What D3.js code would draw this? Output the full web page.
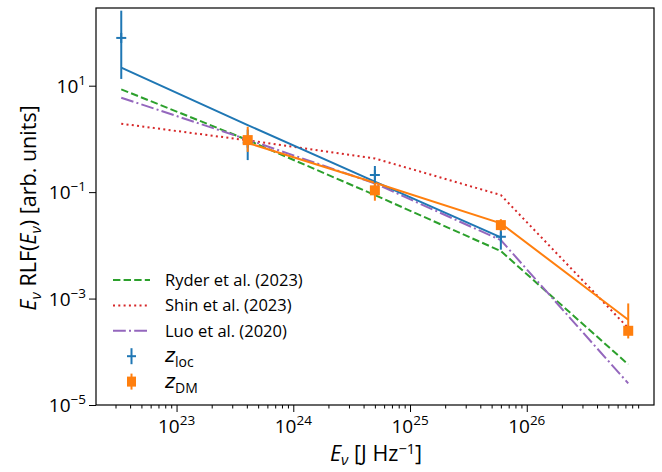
<!DOCTYPE html>
<html>
<head>
<meta charset="utf-8">
<script src="https://cdn.jsdelivr.net/npm/d3@7"></script>
<style>
  html, body { margin: 0; padding: 0; background: #fff; }
  svg { display: block; font-family: "Open Sans", "Noto Sans", sans-serif; }
</style>
</head>
<body>
<svg id="chart" width="662" height="472"></svg>
<script>
// Energy bin centres [J Hz^-1]
const energies = [3.36e22, 4.07e23, 5.0e24, 6.0e25, 7.4e26];

// Literature luminosity functions, E * RLF(E)
const ryder = [8.55, 0.95, 0.088, 0.0078, 5.8e-5];
const shin  = [1.93, 0.94, 0.43, 0.088, 0.00028];
const luo   = [5.95, 0.97, 0.146, 0.0125, 2.55e-5];

// Fitted power laws for the two redshift estimates
const locFitE = energies.slice(0, 4);
const locFit  = [21.8, 1.82, 0.157, 0.0141];
const dmFitE  = energies.slice(1);
const dmFit   = [0.84, 0.150, 0.0259, 0.00040];

// Binned measurements with error bars
const zLocE  = energies.slice(0, 4);
const zLoc   = [79, 0.85, 0.21, 0.0145];
const zLocLo = [13.4, 0.40, 0.13, 0.0083];
const zLocHi = [257, 1.5, 0.31, 0.020];

const zDmE  = energies.slice(1);
const zDm   = [0.95, 0.108, 0.024, 0.000248];
const zDmLo = [0.57, 0.069, 0.019, 0.000178];
const zDmHi = [1.69, 0.15, 0.031, 0.00081];

// Axis ticks
const xTicks = [1e23, 1e24, 1e25, 1e26];
const xTickExp = ["23", "24", "25", "26"];
const yTicks = [1e1, 1e-1, 1e-3, 1e-5];
const yTickExp = ["1", "\u22121", "\u22123", "\u22125"];

const C = { blue: "#1f77b4", orange: "#ff7f0e", green: "#2ca02c", red: "#d62728", purple: "#9467bd" };

const pL = 96, pR = 654, pT = 8, pB = 405;
const svg = d3.select("#chart");

const x = d3.scaleLog().domain([Math.pow(10, 22.31), Math.pow(10, 27.09)]).range([pL, pR]);
const y = d3.scaleLog().domain([1e-5, Math.pow(10, 2.46)]).range([pB, pT]);

const tickFont = 19, expFont = 13.5;

// x axis: major ticks with labels, minor ticks without
const xMinor = [];
for (let e = 22; e <= 27; e++) for (let m = 2; m <= 9; m++) {
  const v = m * Math.pow(10, e);
  if (v > x.domain()[0] && v < x.domain()[1]) xMinor.push(v);
}
const xAxisMinor = d3.axisBottom(x).tickValues(xMinor).tickSize(3.5).tickFormat("");
const xAxisMajor = d3.axisBottom(x).tickValues(xTicks).tickSize(7).tickFormat("");
[xAxisMinor, xAxisMajor].forEach(ax => {
  const g = svg.append("g").attr("transform", `translate(0,${pB})`).call(ax);
  g.select(".domain").remove();
  g.selectAll("line").attr("stroke", "#000").attr("stroke-width", 1);
});
xTicks.forEach((v, i) => {
  const t = svg.append("text").attr("x", x(v)).attr("y", 433)
    .attr("text-anchor", "middle").attr("font-size", tickFont).attr("fill", "#000");
  t.append("tspan").text("10");
  t.append("tspan").attr("dy", -8).attr("font-size", expFont).text(xTickExp[i]);
});

// y axis
const yAxis = d3.axisLeft(y).tickValues(yTicks).tickSize(7).tickFormat("");
const gy = svg.append("g").attr("transform", `translate(${pL},0)`).call(yAxis);
gy.select(".domain").remove();
gy.selectAll("line").attr("stroke", "#000").attr("stroke-width", 1);
yTicks.forEach((v, i) => {
  const t = svg.append("text").attr("x", 86).attr("y", y(v) + 7)
    .attr("text-anchor", "end").attr("font-size", tickFont).attr("fill", "#000");
  t.append("tspan").text("10");
  t.append("tspan").attr("dy", -8).attr("font-size", expFont).text(yTickExp[i]);
});

// frame
svg.append("rect").attr("x", pL).attr("y", pT).attr("width", pR - pL).attr("height", pB - pT)
  .attr("fill", "none").attr("stroke", "#000").attr("stroke-width", 1.2);

const plot = svg.append("g");
const line = d3.line().x(d => x(d[0])).y(d => y(d[1]));
const zip = (a, b) => a.map((v, i) => [v, b[i]]);

function drawLine(E, V, color, dash) {
  plot.append("path").attr("d", line(zip(E, V))).attr("fill", "none")
    .attr("stroke", color).attr("stroke-width", 2)
    .attr("stroke-dasharray", dash || null);
}

drawLine(energies, ryder, C.green, "7.4,3.2");
drawLine(energies, shin, C.red, "2,3.3");
drawLine(energies, luo, C.purple, "12.8,3.2,2,3.2");
drawLine(locFitE, locFit, C.blue);
drawLine(dmFitE, dmFit, C.orange);

// z_loc points: error bars with "+" markers
zLocE.forEach((e, i) => {
  const cx = x(e);
  plot.append("line").attr("x1", cx).attr("x2", cx).attr("y1", y(zLocLo[i])).attr("y2", y(zLocHi[i]))
    .attr("stroke", C.blue).attr("stroke-width", 2);
  plot.append("line").attr("x1", cx - 5).attr("x2", cx + 5).attr("y1", y(zLoc[i])).attr("y2", y(zLoc[i]))
    .attr("stroke", C.blue).attr("stroke-width", 2);
  plot.append("line").attr("x1", cx).attr("x2", cx).attr("y1", y(zLoc[i]) - 5).attr("y2", y(zLoc[i]) + 5)
    .attr("stroke", C.blue).attr("stroke-width", 2);
});

// z_DM points: error bars with square markers
zDmE.forEach((e, i) => {
  const cx = x(e);
  plot.append("line").attr("x1", cx).attr("x2", cx).attr("y1", y(zDmLo[i])).attr("y2", y(zDmHi[i]))
    .attr("stroke", C.orange).attr("stroke-width", 2);
  plot.append("rect").attr("x", cx - 5).attr("y", y(zDm[i]) - 5).attr("width", 10).attr("height", 10)
    .attr("fill", C.orange);
});

// legend
const legendItems = [
  { label: "Ryder et al. (2023)", type: "line", color: C.green, dash: "7.4,3.2" },
  { label: "Shin et al. (2023)", type: "line", color: C.red, dash: "2,3.3" },
  { label: "Luo et al. (2020)", type: "line", color: C.purple, dash: "12.8,3.2,2,3.2" },
  { label: "loc", type: "plus", color: C.blue },
  { label: "DM", type: "square", color: C.orange }
];
const lg = svg.append("g");
legendItems.forEach((d, i) => {
  const cy = 280 + i * 25.4;
  if (d.type === "line") {
    lg.append("line").attr("x1", 113).attr("x2", 150).attr("y1", cy).attr("y2", cy)
      .attr("stroke", d.color).attr("stroke-width", 2).attr("stroke-dasharray", d.dash);
  } else {
    const cx = 131.5;
    lg.append("line").attr("x1", cx).attr("x2", cx).attr("y1", cy - 8).attr("y2", cy + 8)
      .attr("stroke", d.color).attr("stroke-width", 2);
    if (d.type === "plus") {
      lg.append("line").attr("x1", cx - 4.5).attr("x2", cx + 4.5).attr("y1", cy).attr("y2", cy)
        .attr("stroke", d.color).attr("stroke-width", 2);
    } else {
      lg.append("rect").attr("x", cx - 4.5).attr("y", cy - 5).attr("width", 9).attr("height", 10).attr("fill", d.color);
    }
  }
  const t = lg.append("text").attr("x", 165).attr("y", cy + 6).attr("font-size", 16.5).attr("fill", "#000");
  if (d.type === "line") {
    t.text(d.label);
  } else {
    t.append("tspan").attr("font-style", "italic").attr("font-family", "DejaVu Sans, sans-serif").attr("font-size", 19).text("z");
    t.append("tspan").attr("dy", 5).attr("font-size", 14).text(d.label);
  }
});

// axis titles
const xl = svg.append("text").attr("x", 376).attr("y", 461).attr("text-anchor", "middle")
  .attr("font-size", 21.5).attr("fill", "#000");
xl.append("tspan").attr("font-style", "italic").text("E");
xl.append("tspan").attr("dy", 4).attr("font-size", 15).attr("font-style", "italic").text("\u03bd");
xl.append("tspan").attr("dy", -4).text(" [J Hz");
xl.append("tspan").attr("dy", -7).attr("font-size", 14.5).text("\u22121");
xl.append("tspan").attr("dy", 7).text("]");

const yl = svg.append("text").attr("transform", "translate(36,208) rotate(-90)")
  .attr("text-anchor", "middle").attr("font-size", 21.5).attr("fill", "#000");
yl.append("tspan").attr("font-style", "italic").text("E");
yl.append("tspan").attr("dy", 5).attr("font-size", 15).attr("font-style", "italic").text("\u03bd");
yl.append("tspan").attr("dy", -5).text(" RLF(");
yl.append("tspan").attr("font-style", "italic").text("E");
yl.append("tspan").attr("dy", 5).attr("font-size", 15).attr("font-style", "italic").text("\u03bd");
yl.append("tspan").attr("dy", -5).text(") [arb. units]");
</script>
</body>
</html>
